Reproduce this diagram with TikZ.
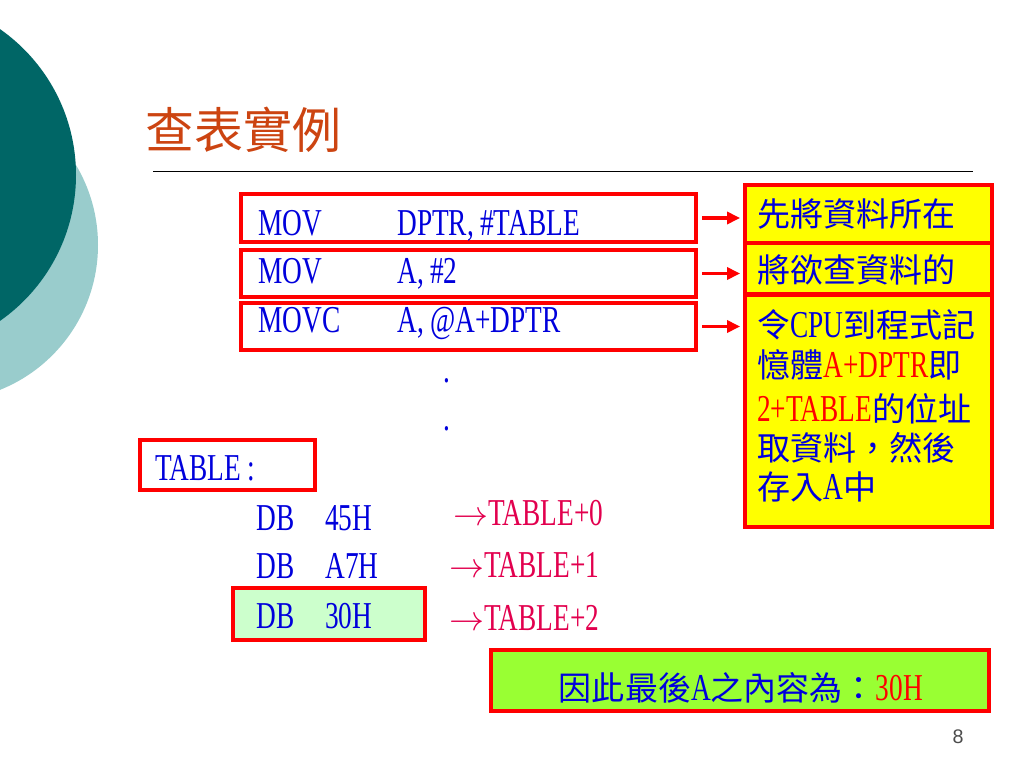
\documentclass[tikz,border=0pt]{standalone}
\usepackage{fontspec}
\setmainfont[FakeStretch=0.72]{Liberation Serif}
\setsansfont{Liberation Sans}
\newfontfamily\cjk[Scale=0.87]{Noto Sans CJK TC}
\usetikzlibrary{arrows.meta}
\definecolor{tealdark}{RGB}{0,102,102}
\definecolor{teallight}{RGB}{153,204,204}
\definecolor{codeblue}{RGB}{0,0,220}
\definecolor{titlered}{RGB}{204,68,17}
\definecolor{tabpink}{RGB}{226,0,78}
\definecolor{memyellow}{RGB}{255,255,0}
\definecolor{palegreen}{RGB}{204,255,204}
\definecolor{answergreen}{RGB}{153,255,51}
\tikzset{
  redbox/.style={draw=red, line width=2.8pt, inner sep=0pt},
  code/.style={inner sep=0pt, anchor=base west, text=codeblue, font=\fontsize{27}{32}\selectfont},
  pointer/.style={draw=red, line width=2.8pt, -{Triangle[length=3.3mm,width=3mm]},
    shorten <=0.1cm, shorten >=0.07cm},
}
\begin{document}
\begin{tikzpicture}[x=0.025cm, y=-0.025cm]
    \useasboundingbox (0,0) rectangle (1024,768);
    \clip (0,0) rectangle (1024,768);

    % circles on the left edge
    \fill[teallight] (-58,245) circle (156);
    \fill[tealdark] (-102,175) circle (178);

    % title
    \node[inner sep=0pt, anchor=west, text=titlered, font=\cjk\fontsize{40}{48}\selectfont] (title) at (145,130) {查表實例};
    \draw[line width=0.7pt] (153,171) -- (973,171);

    % program lines
    \node[redbox, minimum width=11.375cm, minimum height=1.2cm] (mov1) at (468.5,218) {};
    \node[redbox, minimum width=11.375cm, minimum height=1.175cm] (mov2) at (468.5,273.5) {};
    \node[redbox, minimum width=11.375cm, minimum height=1.175cm] (mov3) at (468.5,326.5) {};

    \node[code] (op1) at (258,235) {MOV};
    \node[code] (arg1) at (397,235) {DPTR,\,\#TABLE};
    \node[code] (op2) at (258,283) {MOV};
    \node[code] (arg2) at (397,283) {A,\,\#2};
    \node[code] (op3) at (258,332) {MOVC};
    \node[code] (arg3) at (397,332) {A,\,@A+DPTR};

    \node[code, anchor=base] (dot1) at (447,382) {.};
    \node[code, anchor=base] (dot2) at (447,430) {.};

    % notes
    \node[redbox, fill=memyellow, minimum width=6.175cm, minimum height=1.45cm] (yel1) at (868.5,214) {};
    \node[redbox, fill=memyellow, minimum width=6.175cm, minimum height=1.275cm] (yel2) at (868.5,268.5) {};
    \node[redbox, fill=memyellow, minimum width=6.175cm, minimum height=5.8cm] (yel3) at (868.5,411) {};

    \node[code, anchor=west] (note1) at (757,214) {{\cjk 先將資料所在}};
    \node[code, anchor=west] (note2) at (757,270) {{\cjk 將欲查資料的}};
    \node[code] (note3a) at (757,337) {{\cjk 令}CPU{\cjk 到程式記}};
    \node[code] (note3b) at (757,377) {{\cjk 憶體}\textcolor{red}{A+DPTR}{\cjk 即}};
    \node[code] (note3c) at (757,421) {\textcolor{red}{2+TABLE}{\cjk 的位址}};
    \node[code] (note3d) at (757,460) {{\cjk 取資料，然後}};
    \node[code] (note3e) at (757,499) {{\cjk 存入}A{\cjk 中}};

    \draw[pointer] (mov1.east) -- (mov1.east -| yel1.west);
    \draw[pointer] (mov2.east) -- (mov2.east -| yel2.west);
    \draw[pointer] (mov3.east) -- (mov3.east -| yel3.west);

    % table
    \node[redbox, minimum width=4.375cm, minimum height=1.25cm] (tablbl) at (227.5,465) {};
    \node[code] (tabname) at (155,480) {TABLE\,:};
    \node[redbox, fill=palegreen, minimum width=4.8cm, minimum height=1.3cm] (hit) at (329,614) {};

    \foreach \val/\yy [count=\i from 0] in {45H/530, A7H/578, 30H/628} {
        \node[code] (db\i) at (256,\yy) {DB};
        \node[code] (byte\i) at (325,\yy) {\val};
    }
    \foreach \xx/\yy [count=\i from 0] in {453/525, 449/577, 449/630}
        \node[code, text=tabpink] (addr\i) at (\xx,\yy) {$\rightarrow$TABLE+\i};

    % result
    \node[redbox, fill=answergreen, minimum width=12.45cm, minimum height=1.525cm] (answer) at (740,680.5) {};
    \node[code, anchor=base] (anstext) at (741,700) {{\cjk 因此最後}A{\cjk 之內容為：}\textcolor{red}{30H}};

    \node[inner sep=0pt, text=black!70, font=\sffamily\fontsize{14}{16}\selectfont] (pagenum) at (958,737) {8};
\end{tikzpicture}
\end{document}
